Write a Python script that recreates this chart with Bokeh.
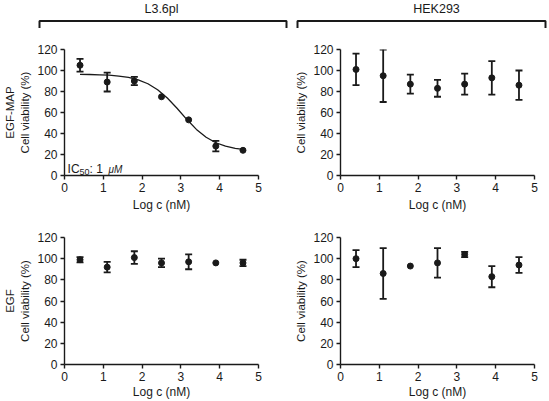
from bokeh.plotting import figure
from bokeh.models import Whisker, TeeHead, ColumnDataSource, Label, Title, Range1d
from bokeh.layouts import column, row
from bokeh.embed import file_html
from bokeh.resources import INLINE

# ---------------- data ----------------
x_log = [0.4, 1.1, 1.8, 2.5, 3.2, 3.9, 4.6]

l36_map_mean = [105, 89, 90, 75, 53, 28, 24]
l36_map_err = [6, 9, 4, 0, 0, 5, 0]

hek_map_mean = [101, 95, 87, 83, 87, 93, 86]
hek_map_err = [15, 25, 9, 8, 10, 16, 14]

l36_egf_mean = [99, 92, 101, 96, 97, 96, 96]
l36_egf_err = [2.5, 5, 6, 4, 7, 0, 3]

hek_egf_mean = [100, 86, 93, 96, 104, 83, 94]
hek_egf_err = [8, 24, 0, 14, 2.5, 10, 7.5]

# fitted dose-response curve
fit_x = [0.4, 0.65, 0.9, 1.15, 1.4, 1.65, 1.9, 2.15, 2.4, 2.65, 2.9, 3.15,
         3.4, 3.65, 3.9, 4.15, 4.4, 4.6]
fit_y = [96.3, 96.2, 95.9, 95.5, 94.7, 93.4, 91.1, 87.4, 81.7, 73.8, 64.0, 53.5,
         43.9, 36.4, 31.2, 27.9, 25.8, 24.8]

x_ticks = [0, 1, 2, 3, 4, 5]
y_ticks = [0, 20, 40, 60, 80, 100, 120]
col_labels = ["L3.6pl", "HEK293"]
row_labels = ["EGF-MAP", "EGF"]
x_label = "Log c (nM)"
y_label = "Cell viability (%)"

FONT = "Liberation Sans"
INK = "#1a1a1a"


def panel(mean, err, width, height, mbl, mbr, mbt, mbb, row_label=None,
          xlab_standoff=3, tick_standoff=3):
    p = figure(width=width, height=height, x_range=Range1d(0, 5), y_range=Range1d(0, 120),
               output_backend="svg", toolbar_location=None,
               min_border_left=mbl, min_border_right=mbr,
               min_border_top=mbt, min_border_bottom=mbb)
    p.grid.visible = False
    p.outline_line_color = None
    p.background_fill_color = "white"
    p.border_fill_color = "white"
    for ax in (p.xaxis[0], p.yaxis[0]):
        ax.axis_line_width = 1.4
        ax.axis_line_color = INK
        ax.major_tick_line_color = INK
        ax.major_tick_line_width = 1.4
        ax.major_tick_out = 4
        ax.major_tick_in = 0
        ax.minor_tick_line_color = None
        ax.major_label_text_font = FONT
        ax.major_label_text_font_size = "12px"
        ax.major_label_text_color = INK
        ax.axis_label_text_font = FONT
        ax.axis_label_text_font_size = "11.5px"
        ax.axis_label_text_font_style = "normal"
        ax.axis_label_text_color = INK
    p.xaxis.axis_label_text_font_size = "12px"
    p.xaxis.ticker = x_ticks
    p.yaxis.ticker = y_ticks
    p.xaxis.axis_label = x_label
    p.yaxis.axis_label = y_label
    p.xaxis.major_label_standoff = tick_standoff
    p.yaxis.major_label_standoff = 3
    p.xaxis.axis_label_standoff = xlab_standoff
    p.yaxis.axis_label_standoff = 3
    if row_label:
        p.add_layout(Title(text=row_label, align="center", text_font=FONT,
                           text_font_size="11.5px", text_font_style="normal",
                           text_color=INK, standoff=2), "left")

    ex = [x for x, e in zip(x_log, err) if e > 0]
    up = [m + e for m, e in zip(mean, err) if e > 0]
    lo = [m - e for m, e in zip(mean, err) if e > 0]
    wsrc = ColumnDataSource(dict(x=ex, upper=up, lower=lo))
    p.add_layout(Whisker(source=wsrc, base="x", upper="upper", lower="lower",
                         dimension="height", line_color=INK, line_width=1.8,
                         upper_head=TeeHead(size=7, line_color=INK, line_width=1.8),
                         lower_head=TeeHead(size=7, line_color=INK, line_width=1.8)))
    p.scatter(x_log, mean, size=6, color=INK, marker="circle")
    return p


# header with brackets and cell-line names (page-pixel coordinates)
header = figure(width=549, height=38, x_range=Range1d(0, 549), y_range=Range1d(38, 0),
                output_backend="svg", toolbar_location=None,
                min_border_left=0, min_border_right=0, min_border_top=0, min_border_bottom=0)
header.axis.visible = False
header.grid.visible = False
header.outline_line_color = None
header.multi_line(xs=[[39, 39, 286, 286], [297, 297, 545, 545]],
                  ys=[[27.5, 20.5, 20.5, 27.5], [27.5, 20.5, 20.5, 27.5]],
                  line_color=INK, line_width=2)
header.text(x=[161, 436], y=[1.5, 1.5], text=col_labels, text_align="center",
            text_baseline="top", text_font={"value": FONT}, text_font_size="12.5px",
            text_color=INK)

tl = panel(l36_map_mean, l36_map_err, 290, 184, 64, 32, 11, 47, row_labels[0])
tl.line(fit_x, fit_y, line_color=INK, line_width=1.3)
tl.add_layout(Label(x=0.08, y=6, text="IC", text_font=FONT, text_font_size="12px",
                    text_color=INK, text_baseline="alphabetic"))
tl.add_layout(Label(x=0.08, y=6, x_offset=12, y_offset=-3, text="50", text_font=FONT,
                    text_font_size="9px", text_color=INK, text_baseline="alphabetic"))
tl.add_layout(Label(x=0.08, y=6, x_offset=22, text=": 1", text_font=FONT,
                    text_font_size="12px", text_color=INK, text_baseline="alphabetic"))
tl.add_layout(Label(x=0.08, y=6, x_offset=41, text="μM", text_font=FONT,
                    text_font_size="10px", text_font_style="italic",
                    text_color=INK, text_baseline="alphabetic"))

tr = panel(hek_map_mean, hek_map_err, 259, 184, 50, 15, 11, 47)
bl = panel(l36_egf_mean, l36_egf_err, 290, 179, 64, 32, 15, 37, row_labels[1],
           xlab_standoff=1)
br = panel(hek_egf_mean, hek_egf_err, 259, 179, 50, 15, 15, 37, xlab_standoff=1)

layout = column(header, row(tl, tr), row(bl, br))
open("out.html", "w").write(file_html(layout, INLINE))
